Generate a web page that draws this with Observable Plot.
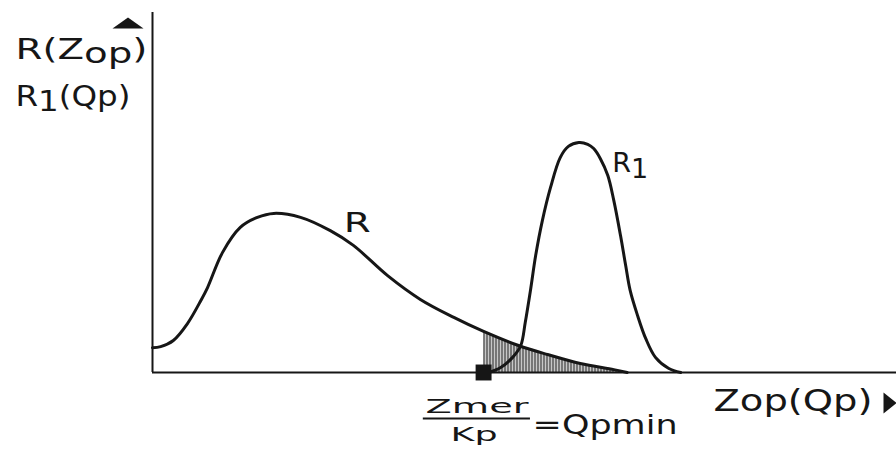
<!DOCTYPE html>
<html>
<head>
<meta charset="utf-8">
<script src="https://cdn.jsdelivr.net/npm/d3@7"></script>
<script src="https://cdn.jsdelivr.net/npm/@observablehq/plot@0.6"></script>
<style>
  html, body { margin: 0; padding: 0; background: #fff; }
</style>
</head>
<body>
<div id="chart"></div>
<script>
// ---- data (arbitrary units: x = Zop(Qp), y = R / R1) ----
const rX  = [0, 1.1, 2.8, 4.7, 6.5, 7.4, 9.4, 11.8, 14.1, 16.3, 19.9, 23.9, 27.0, 31.6, 36.0, 40.5, 44.5, 49.2, 53.1, 57.5, 62.0, 63.8];
const rY  = [6.9, 7.2, 8.9, 13.6, 20.0, 23.6, 33.3, 40.3, 43.1, 44.2, 43.1, 39.4, 35.3, 26.9, 20.3, 15.3, 11.4, 7.5, 5.0, 2.5, 0.8, 0];
const r1X = [45.2, 46.8, 48.4, 49.5, 50.1, 50.8, 51.5, 52.4, 53.5, 54.8, 55.9, 57.3, 58.5, 59.3, 60.2, 61.2, 62.0, 62.9, 63.6, 64.2, 65.2, 66.3, 67.6, 69.4, 71.0];
const r1Y = [0, 1.4, 4.2, 7.5, 13.9, 22.8, 32.5, 42.2, 51.4, 59.7, 62.8, 63.9, 63.4, 62.2, 59.4, 54.7, 47.8, 38.1, 29.7, 22.8, 15.8, 9.4, 4.2, 1.1, 0];
const qpmin = 44.5; // Zmer/Kp = Qpmin
const yAxisLabels = ["R(Zop)", "R1(Qp)"];
const xAxisLabel = "Zop(Qp)";
const curveNames = ["R", "R1"];
const qpminLabel = ["Zmer", "Kp", "=Qpmin"];

// ---- tables built from the arrays ----
const R  = rX.map((x, i) => ({x, y: rY[i]}));
const R1 = r1X.map((x, i) => ({x, y: r1Y[i]}));
const shaded = R.filter(d => d.x >= qpmin);

// ---- styles ----
const ink = "#161616";
const textWidths = {"R(Zop)": 132, "R1(Qp)": 115, "Zop(Qp)": 159, "R": 27, "R1": 36, "Zmer": 103, "Kp": 47, "=Qpmin": 145};
// parts: [text, baseline shift px, relative size]
const textParts = {
  "R(Zop)": [["R(Z", 0, 1], ["op", 4, 1], [")", 0, 1]],
  "R1(Qp)": [["R", 0, 1], ["1", 5, 0.62], ["(Qp)", 0, 1]],
  "R1": [["R", 0, 1], ["1", 6, 0.62]]
};
const upTri = {draw(c) { c.moveTo(-15.5, 5.5); c.lineTo(0, -5.5); c.lineTo(15.5, 5.5); c.closePath(); }};
const rightTri = {draw(c) { c.moveTo(-6.5, -10.5); c.lineTo(6.5, 0); c.lineTo(-6.5, 10.5); c.closePath(); }};
const txt = {fill: ink, lineAnchor: "bottom", textAnchor: "start", fontFamily: "DejaVu Sans"};
const smooth = "catmull-rom";

const svg = Plot.plot({
  width: 896,
  height: 453,
  marginLeft: 152,
  marginRight: 0,
  marginTop: 12,
  marginBottom: 81,
  style: {fontFamily: "DejaVu Sans", background: "#fff", color: ink},
  x: {domain: [0, 100], axis: null},
  y: {domain: [0, 100], axis: null},
  marks: [
    Plot.areaY(shaded, {x: "x", y: "y", curve: smooth, fill: "url(#hatch)"}),
    Plot.ruleX([0], {stroke: ink, strokeWidth: 2}),
    Plot.ruleY([0], {stroke: ink, strokeWidth: 2}),
    Plot.line(R, {x: "x", y: "y", curve: smooth, stroke: ink, strokeWidth: 3}),
    Plot.line(R1, {x: "x", y: "y", curve: smooth, stroke: ink, strokeWidth: 3}),
    Plot.dot([qpmin], {x: d => d, y: 0, symbol: "square", r: 9, fill: ink, stroke: null}),
    Plot.dot([{x: 0, y: 100}], {x: "x", y: "y", symbol: upTri, fill: ink, stroke: null, dx: -24.5, dy: 10.5}),
    Plot.dot([{x: 100, y: 0}], {x: "x", y: "y", symbol: rightTri, fill: ink, stroke: null, dx: -6.5, dy: 30.5}),
    // y-axis labels
    Plot.text([yAxisLabels[0]], {...txt, text: d => d, frameAnchor: "top-left", dx: -137, dy: 46, fontSize: 29}),
    Plot.text([yAxisLabels[1]], {...txt, text: d => d, frameAnchor: "top-left", dx: -137, dy: 93, fontSize: 29}),
    // x-axis label
    Plot.text([xAxisLabel], {...txt, text: d => d, frameAnchor: "bottom-right", dx: -183, dy: 38, fontSize: 30}),
    // curve names
    Plot.text([curveNames[0]], {...txt, text: d => d, x: 25.7, y: 38.9, fontSize: 27}),
    Plot.text([curveNames[1]], {...txt, text: d => d, x: 61.8, y: 55.6, fontSize: 27}),
    // Zmer / Kp = Qpmin
    Plot.text([qpminLabel[0]], {...txt, text: d => d, x: qpmin, y: 0, textAnchor: "middle", dx: -6.5, dy: 40, fontSize: 20}),
    Plot.ruleY([0], {x1: qpmin - 8.1, x2: qpmin + 6.3, stroke: ink, strokeWidth: 2, dy: 46}),
    Plot.text([qpminLabel[1]], {...txt, text: d => d, x: qpmin, y: 0, textAnchor: "middle", dx: -9.5, dy: 68, fontSize: 20}),
    Plot.text([qpminLabel[2]], {...txt, text: d => d, x: qpmin, y: 0, dx: 49, dy: 61, fontSize: 26})
  ]
});

d3.select(svg).insert("defs", ":first-child").html(
  `<pattern id="hatch" width="3" height="12" patternUnits="userSpaceOnUse">
     <rect width="3" height="12" fill="#c8c8c8"></rect>
     <line x1="1" y1="0" x2="1" y2="12" stroke="#333" stroke-width="1.1"></line>
   </pattern>`
);
d3.select(svg).selectAll("text").each(function () {
  const key = this.textContent;
  const parts = textParts[key];
  if (parts) {
    const size = parseFloat(this.getAttribute("font-size") || getComputedStyle(this).fontSize);
    this.textContent = "";
    let shift = 0;
    for (const [s, off, rel] of parts) {
      const t = document.createElementNS("http://www.w3.org/2000/svg", "tspan");
      t.textContent = s;
      t.setAttribute("dy", off - shift);
      if (rel !== 1) t.setAttribute("font-size", size * rel);
      shift = off;
      this.appendChild(t);
    }
  }
  const w = textWidths[key];
  if (w) { this.setAttribute("textLength", w); this.setAttribute("lengthAdjust", "spacingAndGlyphs"); }
});

document.getElementById("chart").append(svg);
</script>
</body>
</html>
